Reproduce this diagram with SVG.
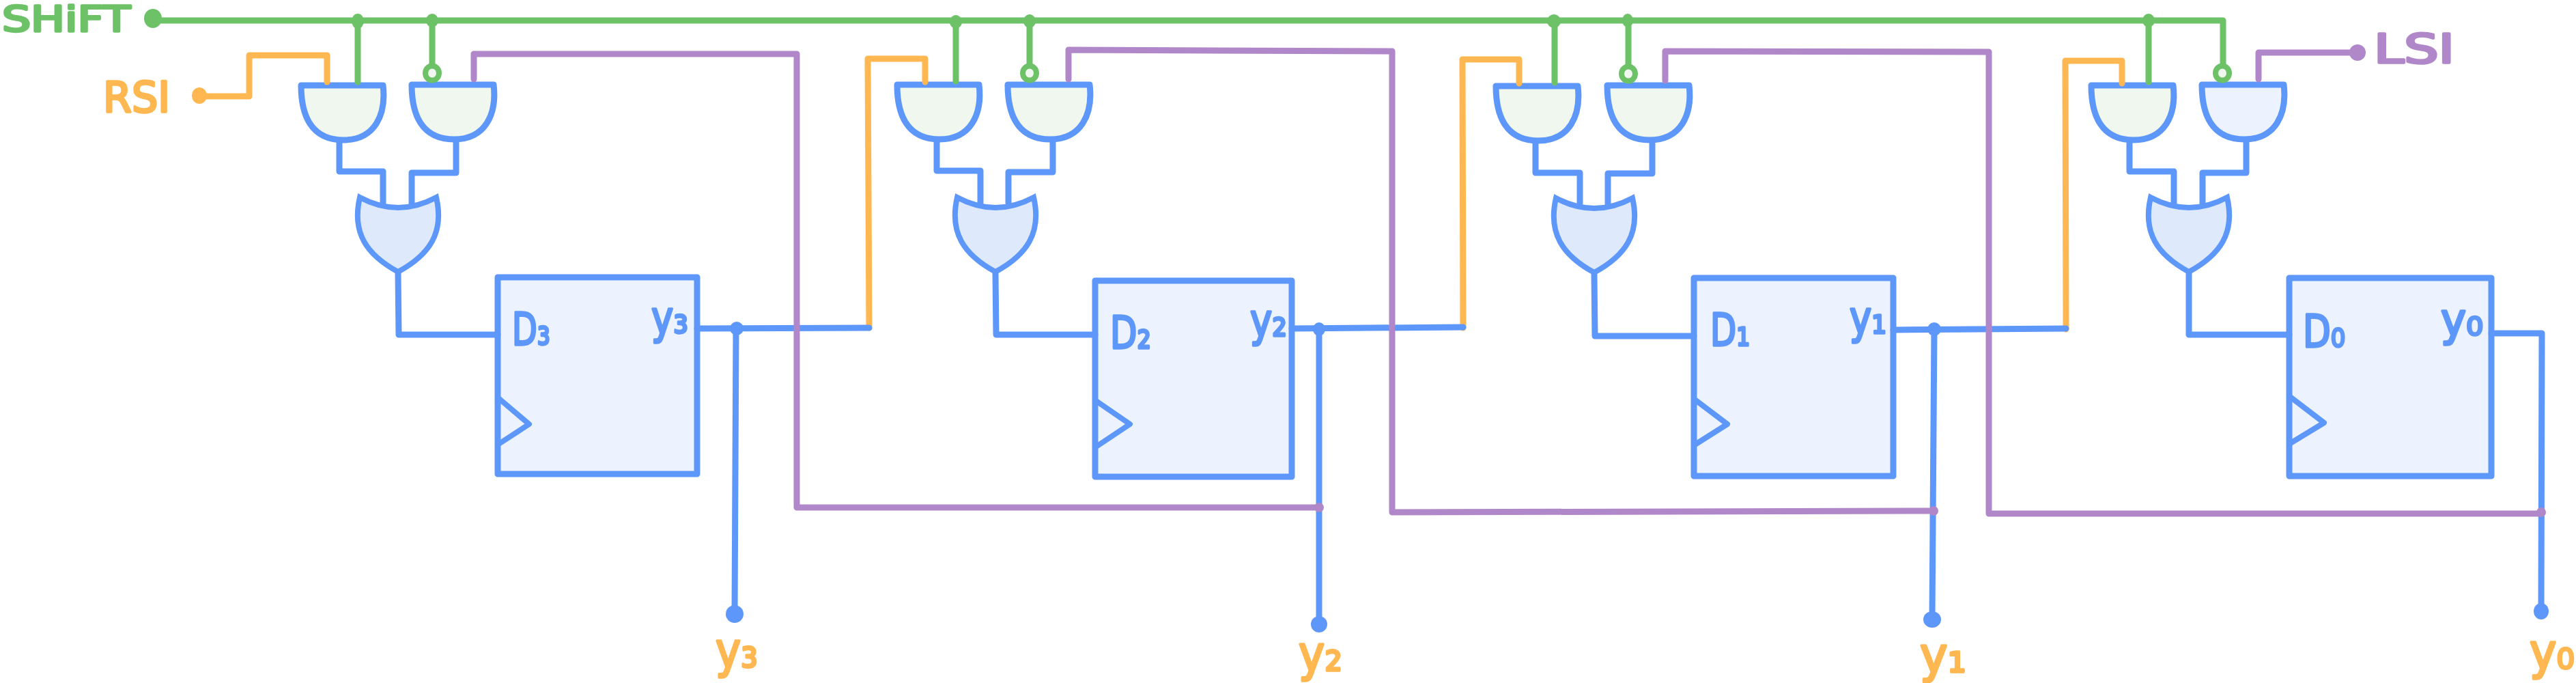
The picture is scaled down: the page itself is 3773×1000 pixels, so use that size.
<svg xmlns="http://www.w3.org/2000/svg" xmlns:xlink="http://www.w3.org/1999/xlink" width="3773" height="1000" viewBox="0 0 3773 1000">
<style>
.w{fill:none;stroke-width:9;stroke-linecap:round;stroke-linejoin:round}
.bl{stroke:#5e97fa}.gr{stroke:#6dc267}.or{stroke:#ffb851}.pu{stroke:#b087c9}
.g{stroke:#5e97fa;stroke-width:9;stroke-linejoin:round}
.o{stroke:#5e97fa;stroke-width:8;stroke-linejoin:miter;stroke-miterlimit:4}
.ag{fill:#f0f7ef}.ab{fill:#ecf3fe}.og{fill:#deeafc}
.box{fill:#ecf3fe;stroke:#5e97fa;stroke-width:9;stroke-linejoin:round}
.clk{fill:none;stroke:#5e97fa;stroke-width:8;stroke-linejoin:round;stroke-linecap:round}
.bub{fill:#f0f7ef;stroke:#6dc267;stroke-width:8}
.dg{fill:#6dc267}.db{fill:#5e97fa}.dp{fill:#b087c9}.do{fill:#ffb851}
text{font-family:"DejaVu Sans",sans-serif;stroke-width:3.500;stroke-linejoin:round}
.tg{fill:#6dc267;stroke:#6dc267}.to{fill:#ffb851;stroke:#ffb851}.tp{fill:#b087c9;stroke:#b087c9}.tb{fill:#5e97fa;stroke:#5e97fa}
.cap{font-size:52px}.in{font-size:66px}.out{font-size:72px}
</style>
<defs>
<path id="and" d="M4 5H124C129 48 112 85 66 85C18 85 4 48 4 5Z"/>
<path id="or" d="M-56 10Q0 40 56 10C68 62 46 94 0 119C-46 94 -68 62 -56 10Z"/>
</defs>
<g id="nodes">
<g id="and3a"><use href="#and" x="437" y="120" class="g ag"/></g>
<g id="and3b"><use href="#and" x="599" y="119" class="g ag"/></g>
<g id="or3"><use href="#or" x="583" y="279" class="o og"/></g>
<g id="ff3"><rect x="729" y="406" width="292" height="288" class="box"/><path d="M729 582L775 621L729 651" class="clk"/>
<text x="750" y="505" class="tb in" textLength="56" lengthAdjust="spacingAndGlyphs">D₃</text><text x="954" y="488" class="tb in" textLength="54" lengthAdjust="spacingAndGlyphs">y₃</text></g>
<g id="and2a"><use href="#and" x="1310" y="119" class="g ag"/></g>
<g id="and2b"><use href="#and" x="1472" y="119" class="g ag"/></g>
<g id="or2"><use href="#or" x="1458" y="279" class="o og"/></g>
<g id="ff2"><rect x="1604" y="411" width="288" height="287" class="box"/><path d="M1604 586L1655 621L1604 655" class="clk"/>
<text x="1626" y="510" class="tb in" textLength="60" lengthAdjust="spacingAndGlyphs">D₂</text><text x="1831" y="492" class="tb in" textLength="54" lengthAdjust="spacingAndGlyphs">y₂</text></g>
<g id="and1a"><use href="#and" x="2187" y="121" class="g ag"/></g>
<g id="and1b"><use href="#and" x="2350" y="120" class="g ag"/></g>
<g id="or1"><use href="#or" x="2335" y="280" class="o og"/></g>
<g id="ff1"><rect x="2481" y="407" width="292" height="290" class="box"/><path d="M2481 584L2530 621L2481 652" class="clk"/>
<text x="2505" y="506" class="tb in" textLength="58" lengthAdjust="spacingAndGlyphs">D₁</text><text x="2709" y="488" class="tb in" textLength="54" lengthAdjust="spacingAndGlyphs">y₁</text></g>
<g id="and0a"><use href="#and" x="3059" y="120" class="g ag"/></g>
<g id="and0b"><use href="#and" x="3221" y="119" class="g ab"/></g>
<g id="or0"><use href="#or" x="3206" y="279" class="o og"/></g>
<g id="ff0"><rect x="3353" y="407" width="296" height="290" class="box"/><path d="M3353 580L3404 619L3353 650" class="clk"/>
<text x="3373" y="508" class="tb in" textLength="62" lengthAdjust="spacingAndGlyphs">D₀</text><text x="3575" y="491" class="tb in" textLength="62" lengthAdjust="spacingAndGlyphs">y₀</text></g>
<g id="label-shift"><text x="3" y="46" class="tg cap" textLength="188" lengthAdjust="spacingAndGlyphs">SHiFT</text></g>
<g id="label-rsi"><text x="151" y="164" class="to cap" style="font-size:62px" textLength="98" lengthAdjust="spacingAndGlyphs">RSI</text></g>
<g id="label-lsi"><text x="3477" y="92" class="tp cap" style="font-size:58px" textLength="118" lengthAdjust="spacingAndGlyphs">LSI</text></g>
<g id="label-y3"><text x="1048" y="977" class="to out" textLength="62" lengthAdjust="spacingAndGlyphs">y₃</text></g>
<g id="label-y2"><text x="1902" y="982" class="to out" textLength="64" lengthAdjust="spacingAndGlyphs">y₂</text></g>
<g id="label-y1"><text x="2812" y="984" class="to out" textLength="68" lengthAdjust="spacingAndGlyphs">y₁</text></g>
<g id="label-y0"><text x="3705" y="979" class="to out" textLength="66" lengthAdjust="spacingAndGlyphs">y₀</text></g>
</g>
<g id="connectors">
<path class="w or" d="M292 141H365V81H479V120"/>
<path class="w or" d="M1273 480L1271 86H1355V120"/>
<path class="w or" d="M2143 480L2142 87H2225V122"/>
<path class="w or" d="M3026 482L3025 89H3108V122"/>
<path class="w bl" d="M497 208V251H561V297M668 208V253H603V298M583 400L584 490H729"/>
<path class="w bl" d="M1372 208V250H1436V297M1542 208V252H1477V297M1458 400L1459 490H1604"/>
<path class="w bl" d="M2249 210V253H2314V298M2420 210V254H2355V298M2335 402L2336 492H2481"/>
<path class="w bl" d="M3119 210V251H3184V298M3290 208V253H3226V298M3206 400V490H3353"/>
<path class="w bl" d="M1021 481L1273 480M1078 481L1076 899"/>
<path class="w bl" d="M1892 481L2143 479M1932 482V914"/>
<path class="w bl" d="M2773 483L3026 481M2833 482L2830 907"/>
<path class="w bl" d="M3649 488H3723L3722 895"/>
<path class="w gr" d="M224 30H3256V95"/>
<path class="w gr" d="M524 30V120M633 30V95M1400 30V119M1508 30V95M2277 30V121M2385 30V96M3147 30V120"/>
<path class="w pu" d="M694 116V79H1167V743H1932"/>
<path class="w pu" d="M1565 116V73L2039 75V750L2832 748"/>
<path class="w pu" d="M2439 118V75L2913 76V752H3722"/>
<path class="w pu" d="M3453 77H3308V116"/>
<ellipse class="bub" cx="633" cy="107" rx="10" ry="10.500"/><ellipse class="bub" cx="1508" cy="107" rx="10" ry="10.500"/><ellipse class="bub" cx="2385" cy="108" rx="10" ry="10.500"/><ellipse class="bub" cx="3255" cy="107" rx="10" ry="10.500"/>
<g class="dg">
<ellipse cx="224" cy="27" rx="13" ry="14"/>
<ellipse cx="524" cy="31" rx="9" ry="11"/><ellipse cx="633" cy="30" rx="9" ry="10"/>
<ellipse cx="1400" cy="32" rx="9" ry="10"/><ellipse cx="1508" cy="31" rx="9" ry="10"/>
<ellipse cx="2276" cy="31" rx="10" ry="10"/><ellipse cx="2384" cy="30" rx="8" ry="10"/>
<ellipse cx="3147" cy="30" rx="9" ry="10"/>
</g>
<ellipse class="do" cx="292" cy="140" rx="11" ry="12"/>
<g class="db">
<ellipse cx="1079" cy="481" rx="10" ry="10"/><ellipse cx="1932" cy="482" rx="9" ry="10"/><ellipse cx="2833" cy="482" rx="10" ry="10"/>
<ellipse cx="1076" cy="899" rx="13" ry="13"/><ellipse cx="1932" cy="914" rx="12" ry="12"/><ellipse cx="2830" cy="907" rx="13" ry="12"/><ellipse cx="3722" cy="895" rx="11" ry="12"/>
</g>
<g class="dp">
<ellipse cx="3453" cy="77" rx="12" ry="12"/>
<ellipse cx="1932" cy="743" rx="7" ry="7"/><ellipse cx="2832" cy="748" rx="7" ry="7"/><ellipse cx="3722" cy="750" rx="7" ry="7"/>
</g>
</g>
</svg>
